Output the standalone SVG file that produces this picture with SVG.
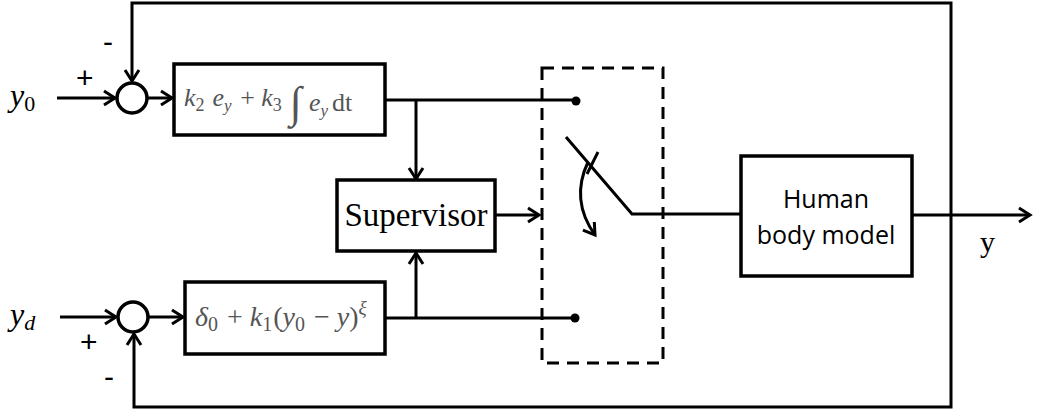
<svg xmlns="http://www.w3.org/2000/svg" width="1048" height="415" viewBox="0 0 1048 415">
<defs>
<style>
.ln{fill:none;stroke:#000;stroke-width:3}
.bx{fill:#fff;stroke:#000;stroke-width:3.5}
.eq{font-family:"Liberation Serif",serif;fill:#555}
.it{font-style:italic}
.sg{font-family:"Liberation Sans",sans-serif;fill:#000}
</style>
<marker id="ar" markerUnits="userSpaceOnUse" markerWidth="16" markerHeight="18" refX="13" refY="8" orient="auto" viewBox="0 0 16 16">
<path d="M2,1 L13,8 L2,15" fill="none" stroke="#000" stroke-width="3"/>
</marker>
</defs>
<rect width="1048" height="415" fill="#fff"/>
<g id="connectors">
<path class="ln" d="M57,98 H115" marker-end="url(#ar)"/>
<path class="ln" d="M147,98 H172" marker-end="url(#ar)"/>
<path class="ln" d="M951,215 V3 H132 V81" marker-end="url(#ar)"/>
<path class="ln" d="M60,317 H116" marker-end="url(#ar)"/>
<path class="ln" d="M148,317 H183" marker-end="url(#ar)"/>
<path class="ln" d="M951,215 V407 H134 V334" marker-end="url(#ar)"/>
<path class="ln" d="M385,100 H576"/>
<path class="ln" d="M416,100 V179" marker-end="url(#ar)"/>
<path class="ln" d="M385,318 H575"/>
<path class="ln" d="M416,318 V253" marker-end="url(#ar)"/>
<path class="ln" d="M495,215 H539" marker-end="url(#ar)"/>
<circle cx="576" cy="101" r="4.5" fill="#000"/>
<circle cx="575" cy="318" r="4.5" fill="#000"/>
<path class="ln" d="M566,137 L632,214 H740"/>
<path class="ln" d="M598,152 L587,174"/>
<path class="ln" d="M588,162 Q570,200 595,235" marker-end="url(#ar)"/>
<path class="ln" d="M912,215 H1030" marker-end="url(#ar)"/>
<rect x="542" y="68" width="121" height="295" fill="none" stroke="#000" stroke-width="3" stroke-dasharray="12,8"/>
</g>
<g id="sum1">
<circle cx="132" cy="98" r="15" fill="#fff" stroke="#000" stroke-width="3.5"/>
<text class="sg" x="76" y="88" font-size="30">+</text>
<text class="sg" x="103" y="52" font-size="30">-</text>
</g>
<g id="sum2">
<circle cx="133" cy="317" r="15" fill="#fff" stroke="#000" stroke-width="3.5"/>
<text class="sg" x="80" y="352" font-size="30">+</text>
<text class="sg" x="104" y="387" font-size="30">-</text>
</g>
<g id="in1">
<text x="10" y="106" font-family="Liberation Serif,serif" font-size="32" font-style="italic">y<tspan font-style="normal" font-size="22" dy="5">0</tspan></text>
</g>
<g id="in2">
<text x="10" y="325" font-family="Liberation Serif,serif" font-size="32" font-style="italic">y<tspan font-size="22" dy="5">d</tspan></text>
</g>
<g id="pi">
<rect class="bx" x="174" y="64" width="211" height="71"/>
<text class="eq" x="184" y="106" font-size="26"><tspan class="it">k</tspan><tspan font-size="18" dy="5">2</tspan><tspan class="it" dy="-5" dx="8">e</tspan><tspan class="it" font-size="17" dy="5">y</tspan><tspan dy="-5" dx="2"> + </tspan><tspan class="it">k</tspan><tspan font-size="18" dy="5">3</tspan><tspan class="it" font-size="44" dy="6" dx="8">∫</tspan><tspan class="it" dy="-6" dx="7">e</tspan><tspan class="it" font-size="17" dy="5">y</tspan><tspan dy="-5" dx="4">d</tspan><tspan>t</tspan></text>
</g>
<g id="ctrl2">
<rect class="bx" x="185" y="282" width="200" height="72"/>
<text class="eq" x="195" y="326" font-size="28"><tspan class="it">δ</tspan><tspan font-size="20" dy="5">0</tspan><tspan dy="-5" dx="2"> + </tspan><tspan class="it">k</tspan><tspan font-size="20" dy="5">1</tspan><tspan dy="-5" dx="1">(</tspan><tspan class="it">y</tspan><tspan font-size="20" dy="5">0</tspan><tspan dy="-5" dx="2"> − </tspan><tspan class="it">y</tspan>)<tspan class="it" font-size="19" dy="-12">ξ</tspan></text>
</g>
<g id="supervisor">
<rect class="bx" x="337" y="180" width="158" height="71"/>
<text x="416" y="226" text-anchor="middle" font-family="Liberation Serif,serif" font-size="33">Supervisor</text>
</g>
<g id="human">
<rect class="bx" x="741" y="156" width="171" height="120"/>
<text x="826" y="208" text-anchor="middle" font-family="Open Sans,sans-serif" font-size="25">Human</text>
<text x="826" y="244" text-anchor="middle" font-family="Open Sans,sans-serif" font-size="25">body model</text>
</g>
<text x="980" y="252" font-family="Liberation Serif,serif" font-size="30">y</text>
</svg>
